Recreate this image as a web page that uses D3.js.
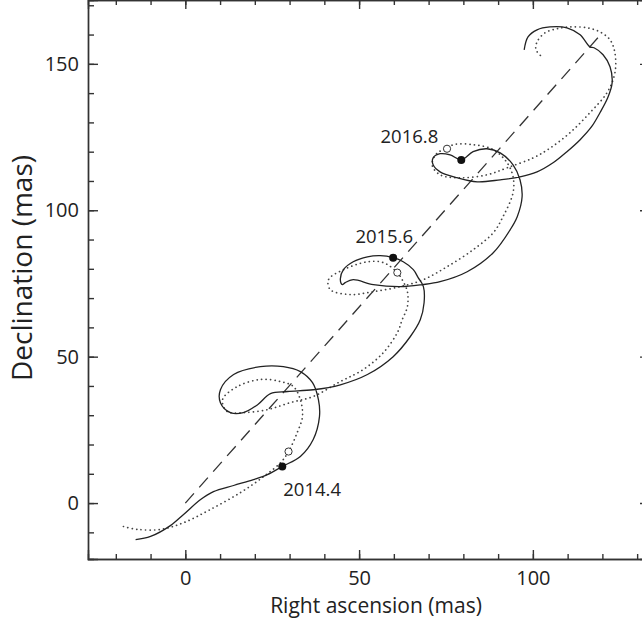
<!DOCTYPE html>
<html lang="en">
<head>
  <meta charset="UTF-8">
  <title>Astrometric path</title>
  <script src="https://d3js.org/d3.v7.min.js"></script>
  <style>
    body { margin: 0; background: #fff; }
    text { font-family: "Open Sans", sans-serif; fill: #222; }
    .axis path, .axis line { stroke: #333; stroke-width: 1.4px; }
    .axis text { font-size: 20px; }
  </style>
</head>
<body>
  <script>
    // solid path (fitted), RA / Dec in mas
    const fitRA = [-14.3, -10.0, -4.3, -0.5, 4.4, 8.1, 13.9, 19.6, 23.6, 27.9, 33.1, 36.8, 38.6, 38.3, 36.6, 33.1, 28.2, 21.6, 13.9, 10.1, 10.1, 13.0, 16.7, 20.8, 24.5, 29.4, 36.8, 44.6, 52.4, 59.8, 64.7, 67.6, 68.7, 68.5, 67.0, 65.6, 62.7, 59.8, 56.1, 52.4, 48.3, 45.5, 44.6, 45.2, 46.0, 48.3, 54.1, 61.8, 68.2, 73.3, 81.1, 88.6, 93.5, 95.5, 96.9, 96.3, 94.3, 90.6, 86.8, 82.8, 79.4, 76.2, 73.3, 71.3, 71.3, 73.3, 78.2, 84.0, 90.6, 96.3, 101.2, 105.8, 109.8, 113.6, 117.0, 119.3, 121.5, 122.8, 122.2, 120.2, 117.6, 116.4, 113.6, 109.8, 104.9, 101.2, 98.6, 97.5];
    const fitDec = [-12.5, -11.4, -7.7, -3.9, 1.2, 3.9, 6.0, 8.0, 9.7, 12.5, 15.9, 21.7, 29.5, 35.3, 41.1, 44.9, 46.6, 46.6, 43.9, 38.7, 34.3, 30.9, 30.9, 33.6, 37.4, 38.1, 38.7, 40.4, 43.9, 50.0, 56.8, 62.6, 68.4, 73.9, 77.0, 79.7, 82.4, 83.8, 84.5, 84.1, 82.4, 79.7, 76.3, 74.6, 75.3, 76.3, 74.6, 73.9, 74.6, 75.6, 79.0, 85.5, 93.4, 97.8, 104.6, 110.4, 115.5, 119.6, 121.0, 120.0, 117.2, 118.9, 119.3, 117.9, 115.5, 113.1, 111.1, 109.7, 110.4, 111.4, 113.1, 116.2, 120.0, 124.1, 128.7, 133.3, 138.3, 143.5, 149.0, 153.1, 155.5, 155.8, 159.9, 162.3, 162.6, 161.6, 159.2, 154.8];

    // dotted path (model)
    const modRA = [-17.8, -13.7, -7.1, -0.5, 7.2, 15.9, 22.5, 27.4, 29.7, 32.2, 33.7, 33.1, 31.1, 27.4, 21.6, 15.0, 10.7, 12.1, 16.7, 23.6, 30.2, 36.8, 44.6, 51.2, 57.0, 61.0, 62.4, 63.9, 63.9, 62.7, 61.0, 57.0, 52.4, 45.5, 41.2, 41.7, 47.5, 54.1, 61.8, 68.5, 75.3, 82.8, 88.6, 91.4, 94.3, 94.3, 92.6, 88.6, 82.8, 77.1, 75.3, 72.5, 71.0, 73.3, 79.1, 86.8, 92.6, 100.1, 104.8, 110.7, 116.4, 121.3, 123.6, 123.6, 122.2, 119.3, 115.6, 110.7, 107.0, 103.5, 101.2, 100.9, 102.6];
    const modDec = [-8.0, -9.0, -9.0, -6.7, -2.2, 3.6, 9.0, 13.8, 17.6, 24.1, 29.5, 35.3, 39.8, 41.5, 42.2, 39.8, 35.3, 31.2, 30.9, 31.9, 34.3, 36.4, 41.5, 45.6, 51.4, 58.2, 62.6, 67.1, 72.2, 75.6, 78.7, 82.1, 82.4, 79.7, 76.3, 72.9, 71.2, 72.2, 73.9, 76.3, 80.7, 86.5, 92.3, 97.8, 106.0, 111.4, 116.2, 120.7, 122.4, 122.4, 121.0, 119.6, 115.5, 112.1, 111.1, 112.1, 114.5, 117.9, 121.1, 126.5, 133.3, 140.1, 146.9, 153.8, 158.2, 160.9, 162.3, 162.6, 162.0, 160.6, 157.5, 154.8, 152.4];

    // straight proper-motion line
    const trendRA = [0, 118.7];
    const trendDec = [0, 158.9];

    // epoch markers
    const epochs = ['2014.4', '2015.6', '2016.8'];
    const fitEpochRA = [27.9, 59.8, 79.4];
    const fitEpochDec = [12.5, 83.8, 117.2];
    const modEpochRA = [29.7, 61.0, 75.3];
    const modEpochDec = [17.6, 78.7, 121.0];

    const xMajor = [0, 50, 100];
    const yMajor = [0, 50, 100, 150];
    const xMinor = d3.range(-20, 131, 10);
    const yMinor = d3.range(-10, 171, 10);

    const width = 642, height = 628;
    const plotL = 88, plotR = 650, plotT = 0, plotB = 559;

    const svg = d3.select('body').append('svg')
      .attr('width', width)
      .attr('height', height);

    const x = d3.scaleLinear().domain([-28, 133.7]).range([plotL, plotR]);
    const y = d3.scaleLinear().domain([-19.1, 171.8]).range([plotB, plotT]);

    // minor ticks
    svg.append('g').attr('class', 'axis')
      .attr('transform', `translate(0,${plotB})`)
      .call(d3.axisBottom(x).tickValues(xMinor).tickSize(-5).tickFormat(''));
    svg.append('g').attr('class', 'axis')
      .attr('transform', `translate(0,${plotT})`)
      .call(d3.axisTop(x).tickValues(xMinor).tickSize(-5).tickFormat(''));
    svg.append('g').attr('class', 'axis')
      .attr('transform', `translate(${plotL},0)`)
      .call(d3.axisLeft(y).tickValues(yMinor).tickSize(-6).tickFormat(''));
    svg.append('g').attr('class', 'axis')
      .attr('transform', `translate(${plotR},0)`)
      .call(d3.axisRight(y).tickValues(yMinor).tickSize(-6).tickFormat(''));

    // major ticks with labels
    svg.append('g').attr('class', 'axis')
      .attr('transform', `translate(0,${plotB})`)
      .call(d3.axisBottom(x).tickValues(xMajor).tickSize(-9).tickPadding(12).tickFormat(d3.format('d')));
    svg.append('g').attr('class', 'axis')
      .attr('transform', `translate(0,${plotT})`)
      .call(d3.axisTop(x).tickValues(xMajor).tickSize(-9).tickFormat(''));
    svg.append('g').attr('class', 'axis')
      .attr('transform', `translate(${plotL},0)`)
      .call(d3.axisLeft(y).tickValues(yMajor).tickSize(-10).tickPadding(9).tickFormat(d3.format('d')));
    svg.append('g').attr('class', 'axis')
      .attr('transform', `translate(${plotR},0)`)
      .call(d3.axisRight(y).tickValues(yMajor).tickSize(-10).tickFormat(''));

    svg.selectAll('.axis .domain').attr('stroke-width', 1.6);

    svg.append('text')
      .attr('x', 376)
      .attr('y', 613)
      .attr('text-anchor', 'middle')
      .style('font-size', '21px')
      .text('Right ascension (mas)');

    svg.append('text')
      .attr('transform', 'translate(32,268) rotate(-90)')
      .attr('text-anchor', 'middle')
      .style('font-size', '28px')
      .text('Declination (mas)');

    const line = d3.line()
      .x(d => x(d[0]))
      .y(d => y(d[1]))
      .curve(d3.curveCatmullRom.alpha(0.5));

    const plot = svg.append('g');

    plot.append('path')
      .datum(d3.zip(trendRA, trendDec))
      .attr('d', d3.line().x(d => x(d[0])).y(d => y(d[1])))
      .attr('fill', 'none')
      .attr('stroke', '#333')
      .attr('stroke-width', 1.3)
      .attr('stroke-dasharray', '13,8');

    plot.append('path')
      .datum(d3.zip(modRA, modDec))
      .attr('d', line)
      .attr('fill', 'none')
      .attr('stroke', '#444')
      .attr('stroke-width', 1.7)
      .attr('stroke-linecap', 'round')
      .attr('stroke-dasharray', '0.1,4.4');

    plot.append('path')
      .datum(d3.zip(fitRA, fitDec))
      .attr('d', line)
      .attr('fill', 'none')
      .attr('stroke', '#222')
      .attr('stroke-width', 1.3);

    plot.selectAll('.open')
      .data(d3.zip(modEpochRA, modEpochDec))
      .join('circle')
      .attr('class', 'open')
      .attr('cx', d => x(d[0]))
      .attr('cy', d => y(d[1]))
      .attr('r', 3.6)
      .attr('fill', '#fff')
      .attr('stroke', '#333')
      .attr('stroke-width', 1);

    plot.selectAll('.filled')
      .data(d3.zip(fitEpochRA, fitEpochDec))
      .join('circle')
      .attr('class', 'filled')
      .attr('cx', d => x(d[0]))
      .attr('cy', d => y(d[1]))
      .attr('r', 4)
      .attr('fill', '#111');

    // epoch labels, offset from the solid-line marker
    const labelDx = [1, 20, -23];
    const labelDy = [30, -15, -17];
    const labelAnchor = ['start', 'end', 'end'];
    plot.selectAll('.lab')
      .data(epochs)
      .join('text')
      .attr('class', 'lab')
      .attr('x', (d, i) => x(fitEpochRA[i]) + labelDx[i])
      .attr('y', (d, i) => y(fitEpochDec[i]) + labelDy[i])
      .attr('text-anchor', (d, i) => labelAnchor[i])
      .style('font-size', '18.5px')
      .text(d => d);
  </script>
</body>
</html>
